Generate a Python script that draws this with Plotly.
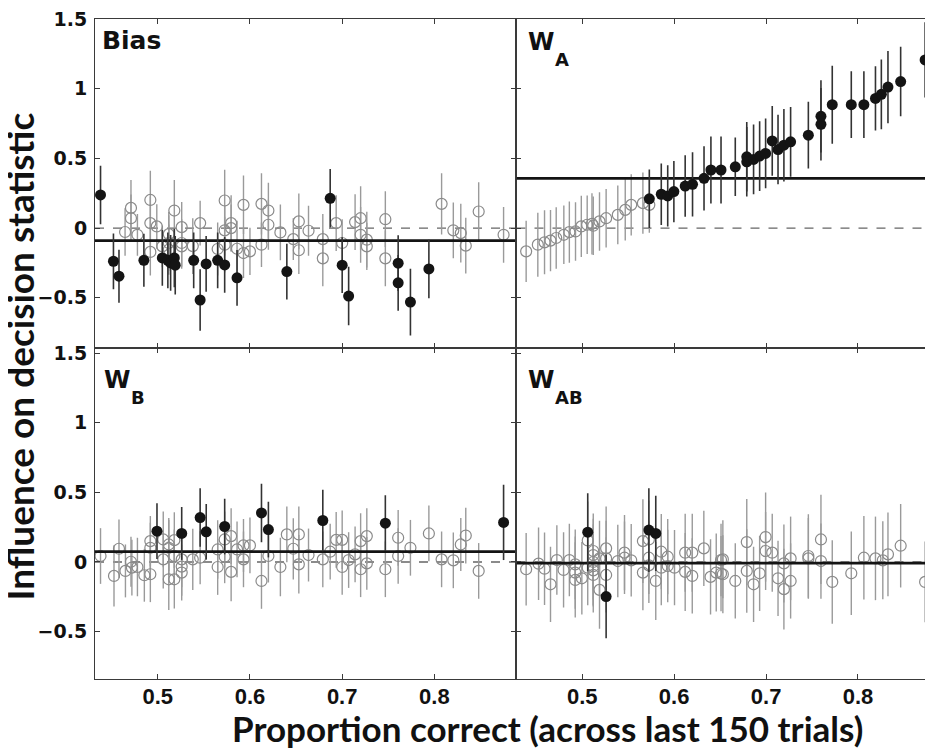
import plotly.graph_objects as go
from plotly.subplots import make_subplots

# ---------------- data ----------------
# Bias panel
bias_open_x = [0.4646, 0.471, 0.471, 0.478, 0.492, 0.492, 0.492, 0.499, 0.505, 0.512, 0.512, 0.512, 0.518,
               0.526, 0.526, 0.526, 0.538, 0.546, 0.565, 0.5726, 0.5726, 0.5726, 0.5796, 0.5796, 0.586, 0.593,
               0.593, 0.600, 0.6125, 0.6125, 0.620, 0.620, 0.633, 0.647, 0.653, 0.653, 0.6635, 0.679, 0.679,
               0.6935, 0.700, 0.714, 0.720, 0.720, 0.7267, 0.7267, 0.7468, 0.7468, 0.8078, 0.8205, 0.8286,
               0.834, 0.848, 0.875]
bias_open_y = [-0.028, 0.145, 0.071, -0.048, 0.202, 0.036, -0.171, 0.012, -0.131, -0.043, -0.107, -0.155, 0.126,
               0.007, -0.107, -0.131, -0.129, 0.036, -0.15, 0.198, -0.016, -0.119, 0.036, 0.0, -0.148, 0.167,
               -0.179, -0.167, 0.174, -0.119, 0.126, 0.024, -0.031, -0.079, 0.048, -0.159, -0.019, -0.079, -0.217,
               0.036, -0.107, 0.043, 0.071, -0.048, -0.083, -0.131, 0.064, -0.217, 0.174, -0.016, -0.036,
               -0.126, 0.119, -0.048]
bias_open_err = [0.17, 0.2, 0.17, 0.15, 0.21, 0.19, 0.17, 0.16, 0.15, 0.16, 0.2, 0.18, 0.22,
                 0.18, 0.17, 0.16, 0.2, 0.16, 0.19, 0.22, 0.18, 0.2, 0.2, 0.17, 0.2, 0.21,
                 0.18, 0.17, 0.22, 0.16, 0.2, 0.18, 0.2, 0.15, 0.2, 0.17, 0.18, 0.18, 0.2,
                 0.2, 0.17, 0.2, 0.23, 0.2, 0.2, 0.17, 0.2, 0.2, 0.22, 0.2, 0.21,
                 0.2, 0.21, 0.2]
bias_fill_x = [0.438, 0.452, 0.458, 0.485, 0.505, 0.511, 0.514, 0.518, 0.519, 0.539, 0.546, 0.5525, 0.565,
               0.5726, 0.586, 0.640, 0.687, 0.700, 0.707, 0.7607, 0.7607, 0.774, 0.794]
bias_fill_y = [0.238, -0.238, -0.345, -0.231, -0.214, -0.231, -0.25, -0.214, -0.266, -0.231, -0.516, -0.257,
               -0.231, -0.264, -0.357, -0.312, 0.214, -0.266, -0.488, -0.252, -0.393, -0.531, -0.293]
bias_fill_err = [0.21, 0.2, 0.19, 0.19, 0.2, 0.2, 0.2, 0.21, 0.21, 0.2, 0.22, 0.2, 0.2,
                 0.2, 0.2, 0.2, 0.21, 0.2, 0.21, 0.2, 0.2, 0.24, 0.21]

# W_A panel
wa_open_x = [0.439, 0.4517, 0.459, 0.4655, 0.4717, 0.480, 0.486, 0.4927, 0.499, 0.5054, 0.5106, 0.512,
             0.5188, 0.526, 0.5387, 0.5468, 0.5533, 0.566, 0.573]
wa_open_y = [-0.167, -0.119, -0.102, -0.09, -0.071, -0.048, -0.029, -0.024, 0.012, 0.024, 0.031, 0.017,
             0.048, 0.071, 0.095, 0.131, 0.167, 0.179, 0.167]
wa_open_err = [0.22, 0.23, 0.23, 0.22, 0.22, 0.21, 0.22, 0.21, 0.22, 0.21, 0.22, 0.21,
               0.21, 0.21, 0.21, 0.22, 0.22, 0.22, 0.2]
wa_fill_x = [0.573, 0.586, 0.593, 0.5997, 0.612, 0.620, 0.6325, 0.640, 0.651, 0.6665, 0.679, 0.679, 0.6864,
             0.693, 0.6995, 0.7067, 0.713, 0.7194, 0.7267, 0.746, 0.7597, 0.7597, 0.772, 0.7927, 0.8064,
             0.819, 0.8254, 0.8326, 0.8464, 0.873]
wa_fill_y = [0.21, 0.243, 0.231, 0.262, 0.302, 0.314, 0.357, 0.417, 0.417, 0.44, 0.512, 0.476, 0.493,
             0.517, 0.536, 0.626, 0.564, 0.595, 0.619, 0.667, 0.745, 0.802, 0.886, 0.886, 0.886,
             0.931, 0.96, 1.012, 1.052, 1.207]
wa_fill_err = [0.21, 0.22, 0.22, 0.22, 0.22, 0.23, 0.23, 0.24, 0.24, 0.21, 0.25, 0.25, 0.25,
               0.25, 0.25, 0.25, 0.25, 0.26, 0.25, 0.24, 0.26, 0.26, 0.28, 0.24, 0.24,
               0.23, 0.25, 0.26, 0.25, 0.27]

# W_B panel
wb_open_x = [0.438, 0.4526, 0.458, 0.465, 0.471, 0.472, 0.478, 0.4855, 0.492, 0.492, 0.492, 0.506, 0.506,
             0.512, 0.512, 0.512, 0.518, 0.518, 0.518, 0.526, 0.526, 0.526, 0.538, 0.546, 0.565, 0.565,
             0.5726, 0.5726, 0.5796, 0.5796, 0.586, 0.593, 0.593, 0.600, 0.6125, 0.620, 0.633, 0.640,
             0.647, 0.653, 0.653, 0.6635, 0.679, 0.687, 0.6935, 0.700, 0.700, 0.707, 0.714, 0.720, 0.720,
             0.7267, 0.7267, 0.7468, 0.7607, 0.7607, 0.774, 0.794, 0.8078, 0.8205, 0.8286, 0.834, 0.848]
wb_open_y = [0.043, -0.1, 0.095, -0.064, 0.002, -0.04, -0.036, -0.095, -0.088, 0.15, 0.102, 0.162, 0.019,
             0.126, 0.102, -0.124, -0.124, 0.157, 0.043, 0.019, -0.033, -0.076, 0.019, 0.031, 0.09, -0.036,
             0.162, 0.038, 0.186, -0.071, 0.09, 0.119, 0.019, 0.119, -0.136, 0.043, -0.036, 0.198,
             0.095, 0.198, -0.017, 0.05, 0.019, 0.074, 0.159, 0.159, -0.036, 0.014, 0.055, 0.15, -0.052,
             0.186, -0.01, -0.052, 0.174, 0.043, 0.102, 0.205, 0.019, 0.012, 0.126, 0.19, -0.064]
wb_open_err = [0.2, 0.22, 0.21, 0.19, 0.18, 0.2, 0.21, 0.19, 0.2, 0.18, 0.18, 0.2, 0.21,
               0.19, 0.2, 0.22, 0.21, 0.2, 0.19, 0.2, 0.21, 0.2, 0.22, 0.19, 0.21, 0.2,
               0.2, 0.19, 0.2, 0.21, 0.2, 0.19, 0.2, 0.2, 0.2, 0.19, 0.21, 0.2,
               0.22, 0.2, 0.21, 0.19, 0.2, 0.2, 0.2, 0.21, 0.2, 0.2, 0.2, 0.2, 0.2,
               0.2, 0.19, 0.2, 0.2, 0.2, 0.2, 0.2, 0.2, 0.2, 0.19, 0.2, 0.2]
wb_fill_x = [0.4992, 0.526, 0.546, 0.5526, 0.5726, 0.6125, 0.620, 0.679, 0.7468, 0.875]
wb_fill_y = [0.221, 0.205, 0.319, 0.217, 0.255, 0.352, 0.233, 0.298, 0.279, 0.284]
wb_fill_err = [0.2, 0.19, 0.21, 0.2, 0.2, 0.21, 0.2, 0.22, 0.2, 0.27]

# W_AB panel
wab_open_x = [0.439, 0.4525, 0.459, 0.4655, 0.4724, 0.4797, 0.486, 0.4924, 0.4924, 0.4924, 0.4996, 0.506,
              0.506, 0.512, 0.512, 0.512, 0.512, 0.512, 0.512, 0.5188, 0.5188, 0.526, 0.526, 0.526, 0.5387,
              0.546, 0.546, 0.5533, 0.566, 0.566, 0.5725, 0.5725, 0.5725, 0.580, 0.586, 0.586, 0.593, 0.593,
              0.6004, 0.612, 0.612, 0.6197, 0.6197, 0.6323, 0.6396, 0.6458, 0.651, 0.651, 0.653, 0.653,
              0.6665, 0.679, 0.679, 0.6864, 0.693, 0.6995, 0.6995, 0.7067, 0.713, 0.7194, 0.7194, 0.7267,
              0.7267, 0.746, 0.746, 0.7597, 0.7597, 0.772, 0.7927, 0.8064, 0.819, 0.827, 0.8326, 0.8464, 0.873]
wab_open_y = [-0.052, -0.012, -0.048, -0.16, 0.014, -0.057, 0.014, -0.017, -0.076, -0.129, -0.117, 0.155,
              -0.041, 0.079, 0.05, 0.0, -0.03, -0.06, -0.093, 0.026, -0.2, 0.098, 0.026, -0.093, 0.007,
              0.067, 0.031, 0.012, 0.15, -0.076, 0.162, 0.031, -0.024, -0.136, 0.074, -0.041, 0.038, -0.029,
              -0.041, 0.067, -0.071, 0.067, -0.1, 0.098, -0.107, -0.076, -0.083, 0.014, 0.019, -0.088,
              -0.136, 0.143, -0.064, -0.16, -0.081, 0.179, 0.079, 0.067, -0.117, -0.01, -0.195, 0.026,
              -0.136, 0.043, 0.026, 0.162, 0.007, -0.143, -0.081, 0.031, 0.026, 0.012, 0.055, 0.117, -0.143]
wab_open_err = [0.26, 0.26, 0.26, 0.27, 0.25, 0.27, 0.26, 0.25, 0.26, 0.27, 0.26, 0.28,
                0.27, 0.27, 0.26, 0.27, 0.28, 0.26, 0.27, 0.27, 0.28, 0.3, 0.27, 0.27, 0.26,
                0.27, 0.26, 0.26, 0.3, 0.27, 0.28, 0.26, 0.27, 0.28, 0.27, 0.27, 0.27, 0.26,
                0.27, 0.28, 0.28, 0.28, 0.27, 0.27, 0.27, 0.28, 0.27, 0.26, 0.28, 0.28,
                0.27, 0.31, 0.3, 0.27, 0.27, 0.32, 0.28, 0.28, 0.27, 0.28, 0.29, 0.3,
                0.27, 0.3, 0.29, 0.32, 0.27, 0.3, 0.3, 0.3, 0.3, 0.28, 0.3, 0.3, 0.29]
wab_fill_x = [0.506, 0.526, 0.5725, 0.580]
wab_fill_y = [0.214, -0.248, 0.229, 0.205]
wab_fill_err = [0.28, 0.3, 0.3, 0.27]

panel_main = ["Bias", "W", "W", "W"]
panel_sub = ["", "A", "B", "AB"]
panel_means = [-0.09, 0.357, 0.074, -0.008]

y_ticks = [-0.5, 0, 0.5, 1, 1.5]
y_tick_labels = ["\u22120.5", "0", "0.5", "1", "1.5"]
x_ticks = [0.5, 0.6, 0.7, 0.8]
x_tick_labels = ["0.5", "0.6", "0.7", "0.8"]

# ---------------- figure ----------------
fig = make_subplots(rows=2, cols=2, horizontal_spacing=0, vertical_spacing=0)

panels = [
    (1, 1, bias_open_x, bias_open_y, bias_open_err, bias_fill_x, bias_fill_y, bias_fill_err),
    (1, 2, wa_open_x, wa_open_y, wa_open_err, wa_fill_x, wa_fill_y, wa_fill_err),
    (2, 1, wb_open_x, wb_open_y, wb_open_err, wb_fill_x, wb_fill_y, wb_fill_err),
    (2, 2, wab_open_x, wab_open_y, wab_open_err, wab_fill_x, wab_fill_y, wab_fill_err),
]

x_ranges = {1: [0.432, 0.889], 2: [0.4285, 0.8805]}
y_ranges = {1: [-0.857, 1.5008], 2: [-0.84, 1.54]}

GRAY = "#8a8a8a"
BLACK = "#141414"

for i, (r, c, ox, oy, oe, fx, fy, fe) in enumerate(panels):
    xr = x_ranges[c]
    fig.add_trace(go.Scatter(x=xr, y=[0, 0], mode="lines",
                             line=dict(color="#666666", width=1.3, dash="dash"),
                             hoverinfo="skip", showlegend=False), row=r, col=c)
    fig.add_trace(go.Scatter(x=ox, y=oy, mode="markers", cliponaxis=False,
                             marker=dict(symbol="circle-open", size=11, color=GRAY, line=dict(width=1.2, color=GRAY)),
                             error_y=dict(type="data", array=oe, visible=True, color="#9a9a9a", thickness=1.4, width=0),
                             showlegend=False), row=r, col=c)
    m = panel_means[i]
    fig.add_trace(go.Scatter(x=xr, y=[m, m], mode="lines",
                             line=dict(color=BLACK, width=2.8),
                             hoverinfo="skip", showlegend=False), row=r, col=c)
    fig.add_trace(go.Scatter(x=fx, y=fy, mode="markers", cliponaxis=False,
                             marker=dict(symbol="circle", size=11, color=BLACK),
                             error_y=dict(type="data", array=fe, visible=True, color="#333333", thickness=1.6, width=0),
                             showlegend=False), row=r, col=c)

# the page places the figure 8 px from the top-left corner
OFF = 8
PLOT_L, PLOT_T, PLOT_B = 95.0, 15.0, 679.0
PLOT_W = 933.0 - PLOT_L
PLOT_H = PLOT_B - PLOT_T
split = (PLOT_B - 345.5) / PLOT_H
left_dom = [0, 422 / PLOT_W]
right_dom = [422 / PLOT_W, 1]
top_dom = [split, 1]
bot_dom = [0, split]


def px(x):
    return (x - PLOT_L) / PLOT_W


def py(y):
    return (PLOT_B - y) / PLOT_H


axis_common = dict(showline=True, linecolor="#3a3a3a", linewidth=1, mirror="ticks", ticks="inside",
                   ticklen=5, tickcolor="#3a3a3a", showgrid=False, zeroline=False)

for r in (1, 2):
    for c in (1, 2):
        fig.update_xaxes(axis_common, range=x_ranges[c], tickvals=x_ticks, ticktext=x_tick_labels,
                         showticklabels=(r == 2), domain=left_dom if c == 1 else right_dom,
                         tickfont=dict(family="Liberation Sans", size=22, color="#111111", weight="bold"),
                         ticklabelstandoff=-2,
                         row=r, col=c)
        fig.update_yaxes(axis_common, range=y_ranges[r], tickvals=y_ticks, ticktext=y_tick_labels,
                         showticklabels=(c == 1), domain=top_dom if r == 1 else bot_dom,
                         tickfont=dict(family="DejaVu Sans", size=19, color="#111111", weight="bold"),
                         ticklabelstandoff=3, ticklabeloverflow="allow",
                         row=r, col=c)

# panel labels: main letter(s) and subscript placed separately (page pixel positions)
main_pos = [(100.5, 30.5, 25), (527, 32, 24), (102.5, 372, 24), (527, 372, 24)]
sub_pos = [None, (554, 50, 18), (129.5, 390, 18), (554, 390, 18)]
for i in range(4):
    x0, y0, s = main_pos[i]
    fig.add_annotation(text="<b>" + panel_main[i] + "</b>", xref="paper", yref="paper",
                       x=px(x0), y=py(y0 - 0.4 * s), xanchor="left", yanchor="top", showarrow=False,
                       font=dict(family="DejaVu Sans", size=s, color="#111111"))
    if sub_pos[i] is not None:
        x1, y1, s1 = sub_pos[i]
        fig.add_annotation(text="<b>" + panel_sub[i] + "</b>", xref="paper", yref="paper",
                           x=px(x1), y=py(y1 - 0.4 * s1), xanchor="left", yanchor="top", showarrow=False,
                           font=dict(family="DejaVu Sans", size=s1, color="#111111"))

fig.add_annotation(text="<b>Influence on decision statistic</b>", xref="paper", yref="paper",
                   x=px(19), y=py(354.5), xanchor="center", yanchor="middle",
                   textangle=-90, showarrow=False,
                   font=dict(family="Lato", size=37, color="#111111"))
fig.add_annotation(text="<b>Proportion correct (across last 150 trials)</b>", xref="paper", yref="paper",
                   x=px(548), y=py(728), xanchor="center", yanchor="middle",
                   showarrow=False,
                   font=dict(family="Lato", size=35, color="#111111"))

fig.update_layout(width=933 - OFF, height=748 - OFF,
                  margin=dict(l=PLOT_L - OFF, r=0, t=PLOT_T - OFF, b=748 - PLOT_B),
                  paper_bgcolor="white", plot_bgcolor="white")

fig.write_html("out.html")
